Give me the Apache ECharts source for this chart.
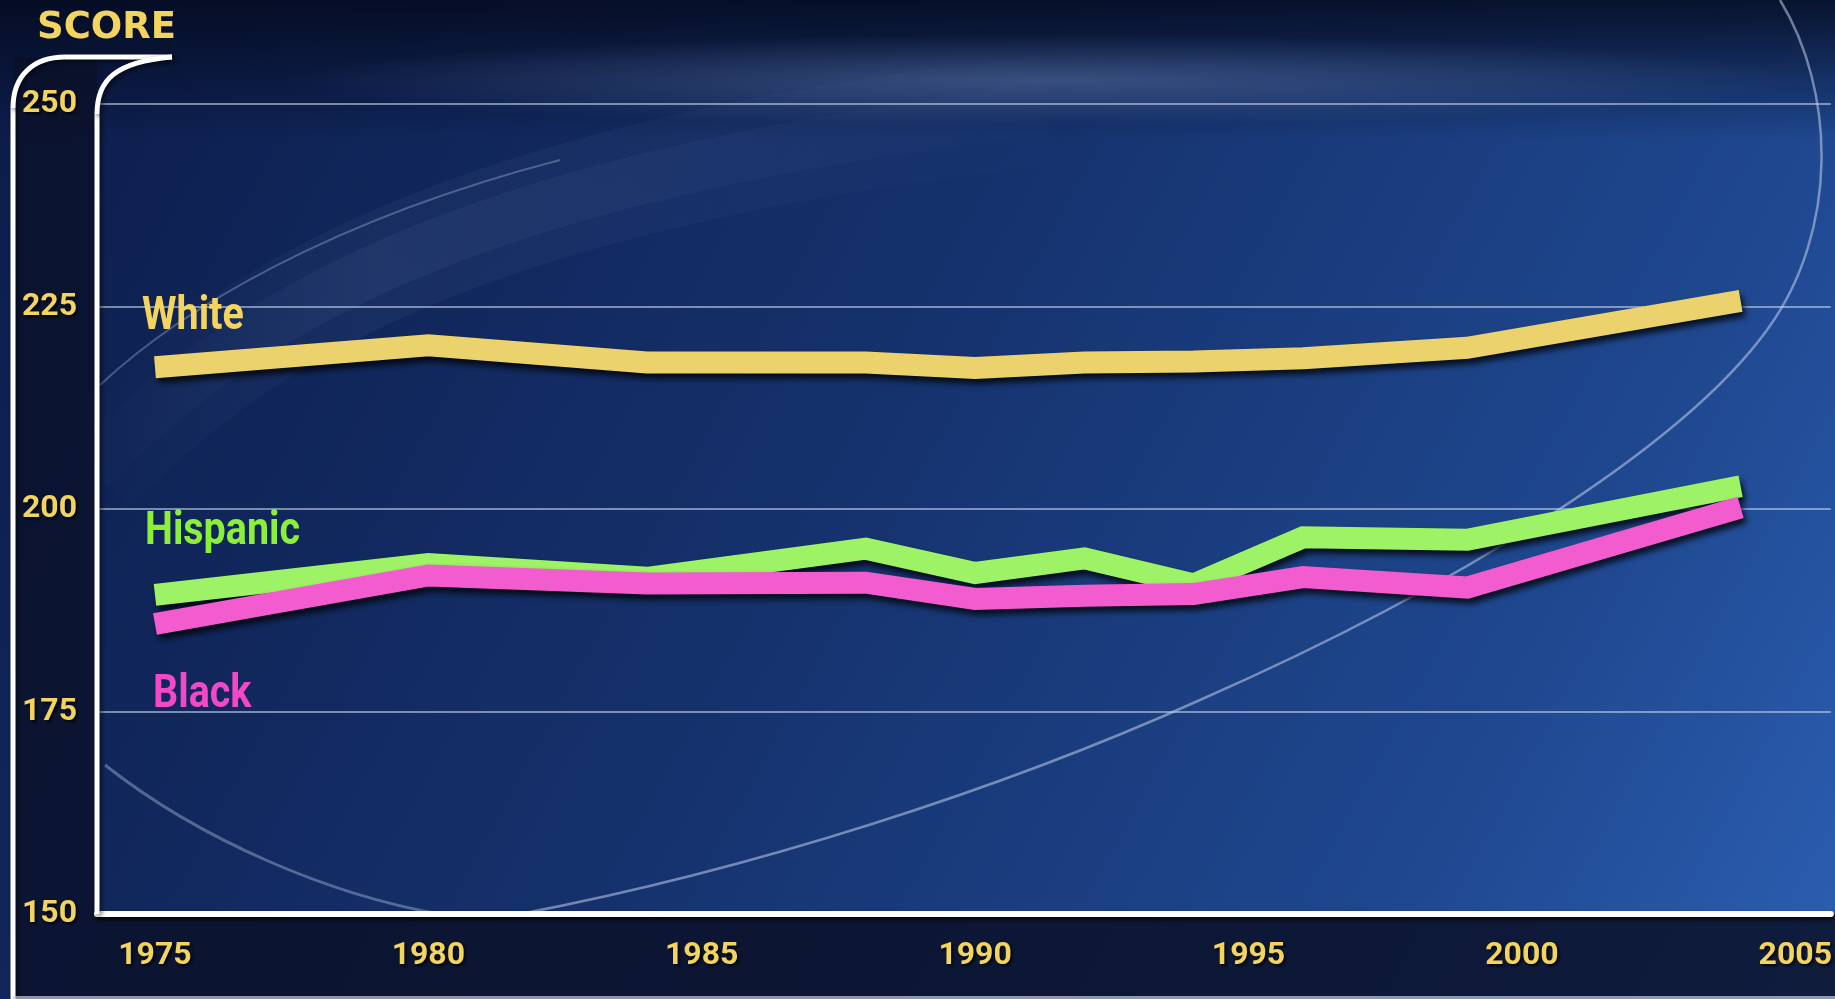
<!DOCTYPE html>
<html>
<head>
<meta charset="utf-8">
<script src="https://cdn.jsdelivr.net/npm/echarts@6/dist/echarts.min.js"></script>
<style>
  html, body { margin: 0; padding: 0; background: #0c1a42; }
  #chart { width: 1835px; height: 999px; }
</style>
</head>
<body>
<div id="chart"></div>
<script>
// reading scores
const years = [1975, 1980, 1984, 1988, 1990, 1992, 1994, 1996, 1999, 2004]
const white = [217.5, 220.2, 218.1, 218.1, 217.4, 218.1, 218.2, 218.6, 219.9, 225.7]
const hispanic = [189.4, 193.2, 191.5, 195.1, 192.1, 193.9, 190.7, 196.5, 196.2, 202.8]
const black = [185.8, 191.8, 190.8, 190.9, 188.9, 189.3, 189.5, 191.6, 190.3, 200.2]
const yearTicks = [1975, 1980, 1985, 1990, 1995, 2000, 2005]

const labelFont = 'Roboto'
const gold = '#f2d45e'

const pairs = (vals) => years.map((y, i) => [y, vals[i]])

const lineSeries = (name, vals, color) => ({
  name: name,
  type: 'line',
  data: pairs(vals),
  showSymbol: false,
  silent: true,
  lineStyle: {
    color: color,
    width: 22,
    cap: 'butt',
    join: 'miter',
    shadowColor: 'rgba(0,0,0,0.8)',
    shadowBlur: 6,
    shadowOffsetX: 3,
    shadowOffsetY: 5
  }
})

// squeezed a bit so Roboto looks like the condensed face of the original
const bigLabel = (text, x, y, color) => ({
  type: 'text',
  x: x,
  y: y,
  scaleX: 0.84,
  z: 50,
  silent: true,
  style: {
    text: text,
    fill: color,
    font: 'bold 47px Roboto',
    verticalAlign: 'middle',
    shadowColor: 'rgba(0,0,0,0.85)',
    shadowBlur: 4,
    shadowOffsetX: 2,
    shadowOffsetY: 3
  }
})

// decorative curve pieces
const curve = (p, style, z) => ({
  type: 'bezierCurve', z: z, silent: true,
  shape: { x1: p[0], y1: p[1], cpx1: p[2], cpy1: p[3], cpx2: p[4], cpy2: p[5], x2: p[6], y2: p[7] },
  style: Object.assign({ fill: null }, style)
})
const seg = (x1, y1, x2, y2, style, z) => ({
  type: 'line', z: z, silent: true,
  shape: { x1: x1, y1: y1, x2: x2, y2: y2 },
  style: style
})
const fadeStroke = (a) => ({
  type: 'linear', x: 60, y: 0, x2: 1100, y2: 0, global: true,
  colorStops: [
    { offset: 0, color: 'rgba(170,195,240,0)' },
    { offset: 0.3, color: 'rgba(170,195,240,' + a + ')' },
    { offset: 0.6, color: 'rgba(170,195,240,' + a * 0.6 + ')' },
    { offset: 1, color: 'rgba(170,195,240,0)' }
  ]
})

const orbit = { stroke: 'rgba(210,222,245,0.5)', lineWidth: 2.5 }
const frame = {
  stroke: '#ffffff', lineWidth: 5,
  shadowColor: 'rgba(0,0,0,0.6)', shadowBlur: 5, shadowOffsetX: 2, shadowOffsetY: 2
}
const tickText = {
  color: gold,
  fontFamily: labelFont,
  fontWeight: 'bold',
  fontSize: 32,
  textShadowColor: 'rgba(0,0,0,0.8)',
  textShadowBlur: 3,
  textShadowOffsetX: 2,
  textShadowOffsetY: 2
}

const chart = echarts.init(document.getElementById('chart'))

chart.setOption({
  animation: false,
  grid: { left: 97, right: 0, top: 104, bottom: 85 },
  xAxis: {
    type: 'value',
    min: 1973.94,
    max: 2005.65,
    axisTick: { show: false },
    splitLine: { show: false },
    axisLine: {
      show: true,
      onZero: false,
      lineStyle: { color: '#ffffff', width: 6, shadowColor: 'rgba(0,0,0,0.7)', shadowBlur: 4, shadowOffsetY: 3 }
    },
    axisLabel: Object.assign({
      customValues: yearTicks,
      margin: 26,
      formatter: (v) => String(v)
    }, tickText)
  },
  yAxis: {
    type: 'value',
    min: 150,
    max: 250,
    interval: 25,
    axisTick: { show: false },
    axisLine: { show: false },
    splitLine: { lineStyle: { color: 'rgba(195,208,232,0.6)', width: 2 } },
    axisLabel: Object.assign({ margin: 20 }, tickText)
  },
  graphic: {
    elements: [
      // backdrop
      {
        type: 'rect', z: -100, silent: true,
        shape: { x: 0, y: 0, width: 1835, height: 999 },
        style: {
          fill: {
            type: 'linear', x: 0, y: 0, x2: 1, y2: 1,
            colorStops: [
              { offset: 0, color: '#0c1c4a' },
              { offset: 0.45, color: '#15316c' },
              { offset: 0.8, color: '#1f4890' },
              { offset: 1, color: '#2c5fb2' }
            ]
          }
        }
      },
      {
        type: 'rect', z: -99, silent: true,
        shape: { x: 0, y: 0, width: 1835, height: 140 },
        style: {
          fill: {
            type: 'linear', x: 0, y: 0, x2: 0, y2: 1,
            colorStops: [
              { offset: 0, color: 'rgba(4,10,30,0.85)' },
              { offset: 1, color: 'rgba(4,10,30,0)' }
            ]
          }
        }
      },
      {
        type: 'circle', z: -98, silent: true,
        x: 1050, y: 80, scaleY: 0.06,
        shape: { cx: 0, cy: 0, r: 760 },
        style: {
          fill: {
            type: 'radial', x: 0.5, y: 0.5, r: 0.5,
            colorStops: [
              { offset: 0, color: 'rgba(150,180,235,0.3)' },
              { offset: 1, color: 'rgba(150,180,235,0)' }
            ]
          }
        }
      },
      // soft swoosh upper left, fading at both ends
      curve([90, 470, 250, 300, 500, 170, 1050, 110], { stroke: fadeStroke(0.05), lineWidth: 110 }, -97),
      curve([90, 470, 250, 300, 500, 170, 1050, 110], { stroke: fadeStroke(0.06), lineWidth: 50 }, -97),
      curve([100, 385, 180, 310, 330, 220, 560, 160], { stroke: 'rgba(205,218,242,0.3)', lineWidth: 2 }, -96),
      // orbit line on the right and lower left
      curve([1780, 0, 1835, 90, 1840, 230, 1767, 330], orbit, -96),
      curve([1767, 330, 1680, 450, 1450, 590, 1200, 700], orbit, -96),
      curve([1200, 700, 1000, 790, 750, 870, 520, 914], orbit, -96),
      curve([105, 765, 200, 840, 330, 895, 440, 914], { stroke: 'rgba(210,222,245,0.35)', lineWidth: 3 }, -96),
      // dark strips outside the plot
      {
        type: 'rect', z: -90, silent: true,
        shape: { x: 13, y: 57, width: 84, height: 942 },
        style: { fill: 'rgba(10,16,40,0.8)' }
      },
      {
        type: 'rect', z: -90, silent: true,
        shape: { x: 97, y: 914, width: 1738, height: 85 },
        style: { fill: 'rgba(10,16,40,0.85)' }
      },
      // white bracket frame
      seg(13, 999, 13, 108, frame, 40),
      curve([13, 108, 13, 76, 33, 57, 65, 57], frame, 40),
      seg(65, 57, 172, 57, frame, 40),
      seg(97, 914, 97, 114, frame, 40),
      curve([97, 114, 97, 80, 115, 62, 172, 57], frame, 40),
      {
        type: 'rect', z: 40, silent: true,
        shape: { x: 13, y: 996, width: 1822, height: 3 },
        style: { fill: 'rgba(200,205,220,0.7)' }
      },
      // titles
      {
        type: 'text', x: 37, y: 28, z: 50, silent: true,
        style: {
          text: 'SCORE', fill: gold, font: 'bold 37px "DejaVu Sans"', verticalAlign: 'middle',
          shadowColor: 'rgba(0,0,0,0.8)', shadowBlur: 3, shadowOffsetX: 2, shadowOffsetY: 2
        }
      },
      bigLabel('White', 142, 317, gold),
      bigLabel('Hispanic', 145, 532, '#8cf03a'),
      bigLabel('Black', 153, 695, '#f548c8')
    ]
  },
  series: [
    lineSeries('White', white, '#ecd26c'),
    lineSeries('Hispanic', hispanic, '#9ef265'),
    lineSeries('Black', black, '#f25ccf')
  ]
})
</script>
</body>
</html>
